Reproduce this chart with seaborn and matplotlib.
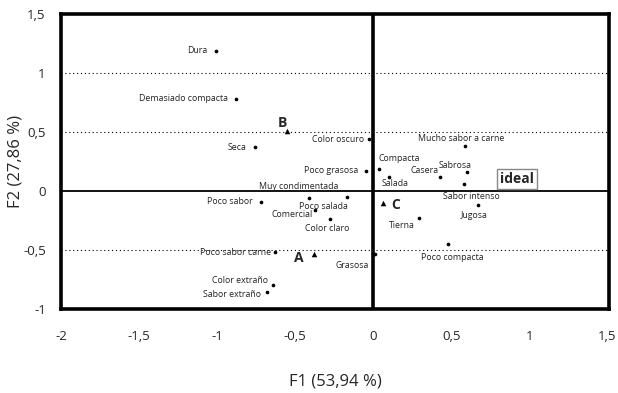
import pandas as pd
import matplotlib.pyplot as plt
import seaborn as sns

# attribute coordinates on the first two factors
attributes = ['Dura', 'Demasiado compacta', 'Seca', 'Color oscuro', 'Poco grasosa',
              'Compacta', 'Salada', 'Casera', 'Sabrosa', 'Sabor intenso',
              'Mucho sabor a carne', 'Jugosa', 'Tierna', 'Poco compacta', 'Grasosa',
              'Poco sabor', 'Poco salada', 'Muy condimentada', 'Comercial', 'Color claro',
              'Poco sabor carne', 'Color extraño', 'Sabor extraño']
f1 = [-1.01, -0.88, -0.76, -0.03, -0.045,
      0.04, 0.10, 0.43, 0.60, 0.58,
      0.59, 0.67, 0.29, 0.48, 0.01,
      -0.72, -0.41, -0.17, -0.37, -0.28,
      -0.63, -0.64, -0.68]
f2 = [1.19, 0.78, 0.37, 0.44, 0.17,
      0.19, 0.12, 0.12, 0.16, 0.06,
      0.38, -0.12, -0.23, -0.45, -0.53,
      -0.09, -0.06, -0.05, -0.16, -0.24,
      -0.52, -0.80, -0.86]

# products
products = ['A', 'B', 'C']
prod_f1 = [-0.38, -0.55, 0.06]
prod_f2 = [-0.53, 0.51, -0.10]

ideal_f1 = 0.92
ideal_f2 = 0.10

# label offsets in pixels (dx, dy, ha)
label_pos = {
    'Dura': (-8, 0, 'right'), 'Demasiado compacta': (-8, 0, 'right'),
    'Seca': (-8, 0, 'right'), 'Color oscuro': (-4, 0, 'right'),
    'Poco grasosa': (-8, 0, 'right'), 'Compacta': (-1, 10, 'left'),
    'Salada': (-7, -7, 'left'), 'Casera': (-2, 6, 'right'),
    'Sabrosa': (-12, 7, 'center'), 'Sabor intenso': (8, -13, 'center'),
    'Mucho sabor a carne': (-4, 8, 'center'), 'Jugosa': (-4, -10, 'center'),
    'Tierna': (-4, -7, 'right'), 'Poco compacta': (4, -13, 'center'),
    'Grasosa': (-6, -12, 'right'), 'Poco sabor': (-8, 0, 'right'),
    'Poco salada': (14, -8, 'center'), 'Muy condimentada': (-48, 10, 'center'),
    'Comercial': (-3, -5, 'right'), 'Color claro': (-2, -9, 'center'),
    'Poco sabor carne': (-4, 0, 'right'), 'Color extraño': (-5, 5, 'right'),
    'Sabor extraño': (-6, -2, 'right'),
}
prod_pos = {'A': (-15, -4), 'B': (-5, 8), 'C': (13, -2)}

df = pd.DataFrame({'F1': f1, 'F2': f2, 'attr': attributes})
dp = pd.DataFrame({'F1': prod_f1, 'F2': prod_f2, 'prod': products})

sns.set_style('white')
plt.rcParams['font.family'] = ['Open Sans', 'DejaVu Sans']

fig = plt.figure(figsize=(6.18, 3.93), dpi=100)
ax = fig.add_axes([61 / 618, 1 - 309 / 393, 548 / 618, 295 / 393])

for yv in [1, 0.5, -0.5]:
    ax.axhline(yv, color='black', lw=0.8, ls=(0, (1, 2.5)), zorder=1)
ax.axhline(0, color='black', lw=1.3, zorder=1)
ax.axvline(0, color='black', lw=2.6, zorder=1)

sns.scatterplot(data=df, x='F1', y='F2', color='black', s=7, marker='o',
                edgecolor='black', linewidth=0, ax=ax, zorder=3)
sns.scatterplot(data=dp, x='F1', y='F2', color='black', s=16, marker='^',
                edgecolor='black', linewidth=0, ax=ax, zorder=3)

for _, r in df.iterrows():
    dx, dy, ha = label_pos[r['attr']]
    ax.annotate(r['attr'], (r['F1'], r['F2']), xytext=(dx, dy), textcoords='offset pixels',
                ha=ha, va='center', fontsize=6.3, color='#222222')
for _, r in dp.iterrows():
    dx, dy = prod_pos[r['prod']]
    ax.annotate(r['prod'], (r['F1'], r['F2']), xytext=(dx, dy), textcoords='offset pixels',
                ha='center', va='center', fontsize=10, fontweight='bold')

ax.text(ideal_f1, ideal_f2, 'ideal', ha='center', va='center', fontsize=10, fontweight='bold',
        bbox=dict(boxstyle='square,pad=0.2', facecolor='white', edgecolor='#888888', lw=1))

ax.set_xlim(-1.98, 1.51)
ax.set_ylim(-1, 1.5)
xt = [-2, -1.5, -1, -0.5, 0, 0.5, 1, 1.5]
yt = [-1, -0.5, 0, 0.5, 1, 1.5]
ax.set_xticks(xt)
ax.set_yticks(yt)
ax.set_xticklabels([f'{v:g}'.replace('.', ',') for v in xt])
ax.set_yticklabels([f'{v:g}'.replace('.', ',') for v in yt])
ax.tick_params(axis='x', length=0, pad=15, labelsize=9.5)
ax.tick_params(axis='y', length=0, pad=11, labelsize=9.5)
for sp in ax.spines.values():
    sp.set_visible(True)
    sp.set_color('black')
    sp.set_linewidth(2.6)

ax.set_xlabel('F1 (53,94 %)', fontsize=12, labelpad=22)
ax.set_ylabel('F2 (27,86 %)', fontsize=12)
ax.yaxis.set_label_coords(-0.068, 0.5)

fig.savefig('out.png', dpi=100)
